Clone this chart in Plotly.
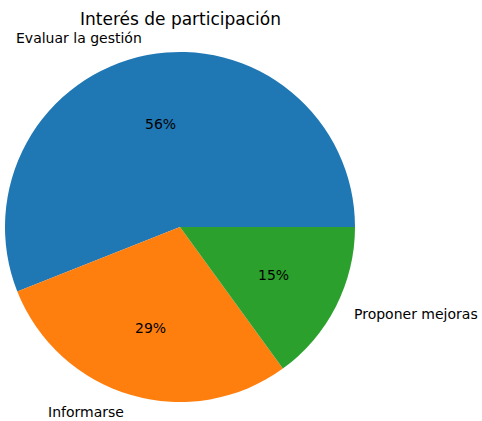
import math
import plotly.graph_objects as go

categorias = ["Evaluar la gestión", "Informarse", "Proponer mejoras"]
valores = [56, 29, 15]
colores = ["#1f77b4", "#ff7f0e", "#2ca02c"]
titulo = "Interés de participación"

W, H = 482, 421
cx, cy, r = 180, 227, 175  # centro y radio del pastel en píxeles

total = sum(valores)
# en plotly, con sentido antihorario la primera porción queda en sentido horario
# respecto al ángulo de inicio; se gira para imitar el pastel de matplotlib
giro = 90 - 360 * valores[0] / total

fig = go.Figure()
fig.add_trace(go.Pie(
    labels=categorias,
    values=valores,
    marker=dict(colors=colores, line=dict(width=0)),
    sort=False,
    direction="counterclockwise",
    rotation=giro,
    textinfo="none",
    hoverinfo="label+percent",
    showlegend=False,
    domain=dict(x=[(cx - r) / W, (cx + r) / W], y=[1 - (cy + r) / H, 1 - (cy - r) / H]),
))

# etiquetas al estilo matplotlib: nombre a 1.1 r, porcentaje a 0.6 r
inicio = 0.0
anotaciones = []
for cat, v in zip(categorias, valores):
    frac = v / total
    medio = math.radians((inicio + frac / 2) * 360)
    inicio += frac
    ux, uy = math.cos(medio), math.sin(medio)
    anotaciones.append(dict(
        x=(cx + 1.1 * r * ux) / W, y=1 - (cy - 1.1 * r * uy) / H,
        xref="paper", yref="paper", text=cat, showarrow=False,
        xanchor="left" if ux > 0 else "right", yanchor="middle",
        font=dict(size=14, color="#000000"),
    ))
    anotaciones.append(dict(
        x=(cx + 0.6 * r * ux) / W, y=1 - (cy - 0.6 * r * uy) / H,
        xref="paper", yref="paper", text=f"{frac * 100:.0f}%", showarrow=False,
        xanchor="center", yanchor="middle",
        font=dict(size=14, color="#000000"),
    ))

anotaciones.append(dict(
    x=cx / W, y=1 - 19 / H, xref="paper", yref="paper", text=titulo,
    showarrow=False, xanchor="center", yanchor="middle",
    font=dict(size=17, color="#000000"),
))

fig.update_layout(
    width=W, height=H,
    margin=dict(l=0, r=0, t=0, b=0),
    paper_bgcolor="white",
    plot_bgcolor="white",
    font=dict(family="DejaVu Sans"),
    annotations=anotaciones,
)

fig.write_html("out.html", config={"displayModeBar": False},
               post_script="document.body.style.margin='0';")
